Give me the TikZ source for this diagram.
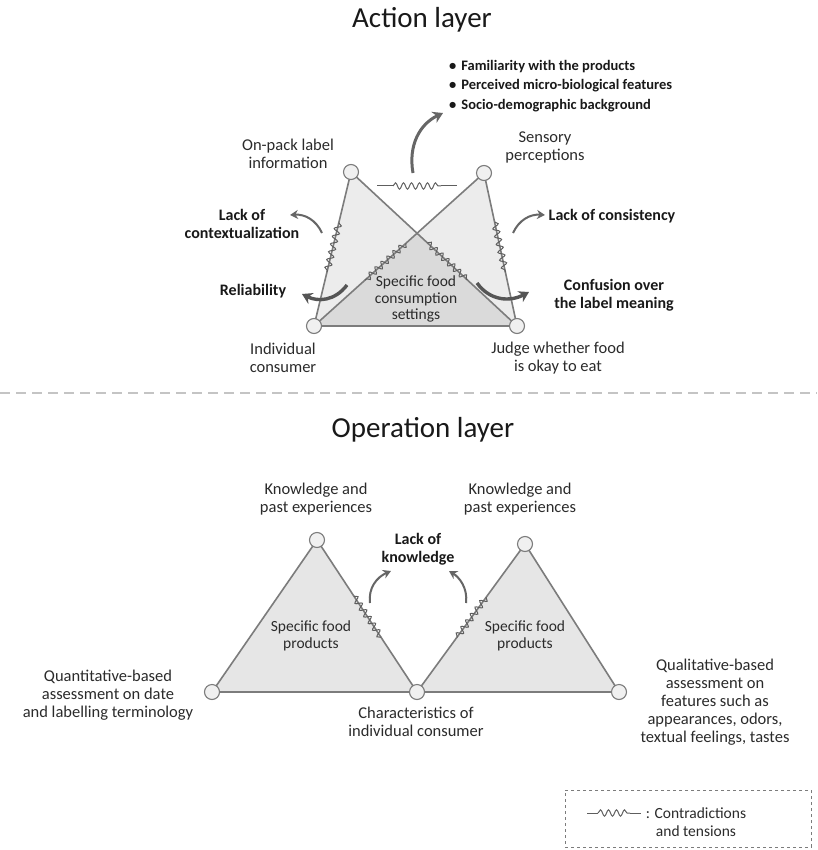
\documentclass[tikz,border=0pt]{standalone}
\usepackage{fontspec}
\setmainfont{Carlito}
\usetikzlibrary{arrows.meta,decorations.pathmorphing,calc}
\definecolor{edgegray}{HTML}{7C7C7C}
\definecolor{wavegray}{HTML}{5E5E5E}
\definecolor{trifill}{HTML}{ECECEC}
\definecolor{overfill}{HTML}{DADADA}
\definecolor{lowfill}{HTML}{E6E6E6}
\definecolor{circfill}{HTML}{F0F0F0}
\definecolor{txt}{HTML}{2B2B2B}
\definecolor{arrowgray}{HTML}{666666}
\definecolor{darkarrow}{HTML}{555555}
\definecolor{sepgray}{HTML}{C4C4C4}
\tikzset{
  vtx/.style={circle, draw=edgegray, fill=circfill, line width=1.1pt, minimum size=15pt, inner sep=0pt},
  edgeline/.style={draw=edgegray, line width=1.6pt},
  wavy/.style={draw=wavegray, line width=1pt, decorate, decoration={snake, amplitude=3.2pt, segment length=8pt}},
  lbl/.style={font=\fontsize{16.5}{18}\selectfont, text=txt, align=center, inner sep=0pt},
  inlbl/.style={font=\fontsize{15.5}{16.5}\selectfont, text=txt, align=center, inner sep=0pt},
  blbl/.style={font=\bfseries\fontsize{16}{17.5}\selectfont, text=black!90, align=center, inner sep=0pt},
  ttl/.style={font=\fontsize{29}{32}\selectfont, text=black!90, inner sep=0pt},
  thinarrow/.style={draw=arrowgray, line width=2pt, -{Stealth[length=8pt,width=9pt]}},
  thickarrow/.style={draw=darkarrow, line width=3.4pt, -{Stealth[length=10pt,width=12pt]}},
  toparrow/.style={draw=arrowgray, line width=3pt, -{Stealth[length=10pt,width=12pt]}},
}
\begin{document}
\begin{tikzpicture}[x=1pt,y=-1pt]
\useasboundingbox (0,0) rectangle (817,850);
\fill[white] (0,0) rectangle (817,850);

% ---------------- Action layer ----------------
\node[ttl] (t1) at (422,20) {Action layer};

\coordinate (A1) at (351,172);
\coordinate (A2) at (484,173);
\coordinate (B1) at (314,326);
\coordinate (B2) at (517,326);
\coordinate (X) at (intersection of A1--B2 and A2--B1);

\fill[trifill] (A1) -- (B1) -- (B2) -- cycle;
\fill[trifill] (A2) -- (B1) -- (B2) -- cycle;
\fill[overfill] (X) -- (B1) -- (B2) -- cycle;

\draw[edgeline] (A1) -- (B1);
\draw[edgeline] (A1) -- (B2);
\draw[edgeline] (A2) -- (B1);
\draw[edgeline] (A2) -- (B2);
\draw[edgeline] (B1) -- (B2);

\draw[wavy] ($(A1)!0.33!(B1)$) -- ($(A1)!0.65!(B1)$);
\draw[wavy] ($(A2)!0.32!(B2)$) -- ($(A2)!0.65!(B2)$);
\draw[wavy] ($(A1)!0.46!(B2)$) -- ($(A1)!0.70!(B2)$);
\draw[wavy] ($(A2)!0.46!(B1)$) -- ($(A2)!0.70!(B1)$);

\node[vtx] (a1) at (A1) {};
\node[vtx] (a2) at (A2) {};
\node[vtx] (b1) at (B1) {};
\node[vtx] (b2) at (B2) {};

% horizontal tension
\coordinate (h0) at (377,186);
\coordinate (h1) at (393,186);
\coordinate (h2) at (441,186);
\coordinate (h3) at (457,186);
\draw[wavegray, line width=1pt] (h0) -- (h1);
\draw[wavy] (h1) -- (h2);
\draw[wavegray, line width=1pt] (h2) -- (h3);

% bullets
\node[font=\bfseries\fontsize{14.5}{19.5}\selectfont, text=black!90, align=left, anchor=west, inner sep=0pt] (bul) at (449,86)
 {\textbullet\hspace{5pt}Familiarity with the products\\
  \textbullet\hspace{5pt}Perceived micro-biological features\\
  \textbullet\hspace{5pt}Socio-demographic background};

% labels
\node[lbl] (onpack) at (288,154) {On-pack label\\information};
\node[lbl] (sens) at (545,147) {Sensory\\perceptions};
\node[blbl] (ctx) at (242,224) {Lack of\\contextualization};
\node[blbl] (cons) at (612,216) {Lack of consistency};
\node[blbl] (rel) at (253,291) {Reliability};
\node[blbl] (conf) at (614,295) {Confusion over\\the label meaning};
\node[inlbl] (set) at (416,299) {Specific food\\consumption\\settings};
\node[lbl] (ind) at (283,358) {Individual\\consumer};
\node[lbl] (judge) at (558,358) {Judge whether food\\is okay to eat};

% arrows
\coordinate (p0) at (413,173); \coordinate (p1) at (443,113);
\draw[toparrow] (p0) .. controls (408,145) and (420,124) .. (p1);
\coordinate (c0) at (322,233); \coordinate (c1) at (290,215);
\draw[thinarrow] (c0) .. controls (316,220) and (305,214) .. (c1);
\coordinate (s0) at (513,233); \coordinate (s1) at (545,215);
\draw[thinarrow] (s0) .. controls (519,220) and (530,214) .. (s1);
\coordinate (r0) at (347,285); \coordinate (r1) at (302,294);
\draw[thickarrow] (r0) .. controls (335,301) and (318,302) .. (r1);
\coordinate (f0) at (477,283); \coordinate (f1) at (529,292);
\draw[thickarrow] (f0) .. controls (490,301) and (510,302) .. (f1);

% separator
\coordinate (sepL) at (0,393); \coordinate (sepR) at (817,393);
\draw[sepgray, line width=2.5pt, dash pattern=on 10pt off 6pt] (sepL) -- (sepR);

% ---------------- Operation layer ----------------
\node[ttl] (t2) at (423,430) {Operation layer};

\coordinate (L1) at (317,540);
\coordinate (LB) at (212,692);
\coordinate (M) at (417,692);
\coordinate (R1) at (525,544);
\coordinate (RB) at (619,692);

\fill[lowfill] (L1) -- (LB) -- (M) -- cycle;
\fill[lowfill] (R1) -- (M) -- (RB) -- cycle;
\draw[edgeline] (L1) -- (LB);
\draw[edgeline] (LB) -- (M);
\draw[edgeline] (L1) -- (M);
\draw[edgeline] (R1) -- (M);
\draw[edgeline] (M) -- (RB);
\draw[edgeline] (R1) -- (RB);

\draw[wavy] ($(L1)!0.37!(M)$) -- ($(L1)!0.64!(M)$);
\draw[wavy] ($(R1)!0.36!(M)$) -- ($(R1)!0.63!(M)$);

\node[vtx] (l1) at (L1) {};
\node[vtx] (lb) at (LB) {};
\node[vtx] (m) at (M) {};
\node[vtx] (r1) at (R1) {};
\node[vtx] (rb) at (RB) {};

\coordinate (k0) at (370,603); \coordinate (k1) at (391,571);
\draw[thinarrow] (k0) .. controls (368,588) and (377,577) .. (k1);
\coordinate (j0) at (466,603); \coordinate (j1) at (449,571);
\draw[thinarrow] (j0) .. controls (468,588) and (459,577) .. (j1);

\node[lbl] (kn1) at (316,499) {Knowledge and\\past experiences};
\node[lbl] (kn2) at (520,499) {Knowledge and\\past experiences};
\node[blbl] (lok) at (418,549) {Lack of\\knowledge};
\node[inlbl] (sfp1) at (311,636) {Specific food\\products};
\node[inlbl] (sfp2) at (525,636) {Specific food\\products};
\node[lbl] (quant) at (108,695) {Quantitative-based\\assessment on date\\and labelling terminology};
\node[lbl] (char) at (416,722) {Characteristics of\\individual consumer};
\node[lbl] (qual) at (715,702) {Qualitative-based\\assessment on\\features such as\\appearances, odors,\\textual feelings, tastes};

% legend
\node[draw=edgegray, line width=1pt, dashed, minimum width=246pt, minimum height=57pt, inner sep=0pt] (leg) at (688,818.5) {};
\coordinate (g0) at (587,813);
\coordinate (g1) at (598,813);
\coordinate (g2) at (630,813);
\coordinate (g3) at (641,813);
\draw[wavegray, line width=1pt] (g0) -- (g1);
\draw[wavy] (g1) -- (g2);
\draw[wavegray, line width=1pt] (g2) -- (g3);
\node[font=\fontsize{15.5}{18}\selectfont, text=txt, align=center, inner sep=0pt] (legt) at (696,822) {: Contradictions\\and tensions};
\end{tikzpicture}
\end{document}
